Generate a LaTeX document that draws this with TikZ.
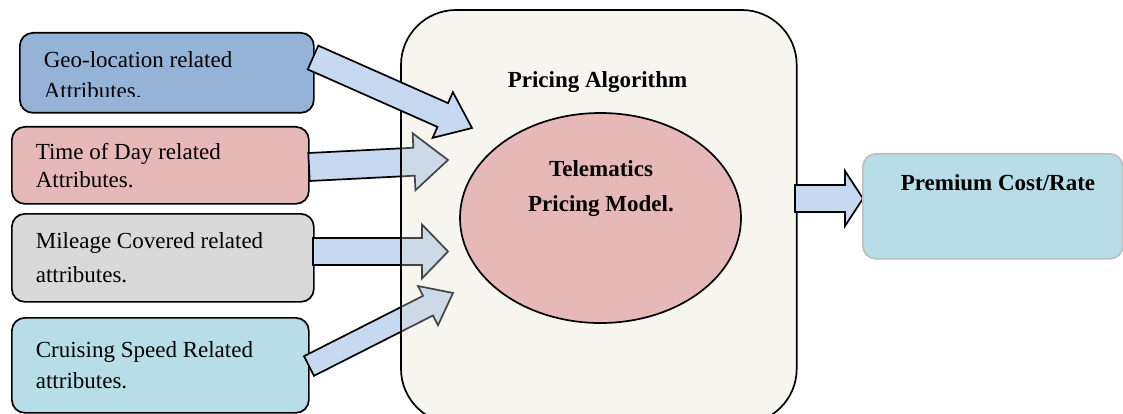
\documentclass[tikz,border=0pt]{standalone}
\usepackage{fontspec}
\setmainfont{Liberation Serif}
\usetikzlibrary{calc,shapes.geometric}
\definecolor{geoc}{HTML}{95B3D7}
\definecolor{timec}{HTML}{E6B8B7}
\definecolor{milec}{HTML}{D9D9D9}
\definecolor{cruisec}{HTML}{B7DDE8}
\definecolor{boxc}{HTML}{F6F5F0}
\definecolor{arrc}{HTML}{C6D9F1}
\definecolor{arrin}{HTML}{CCD9E6}
\definecolor{arrinline}{HTML}{454545}
\definecolor{premborder}{HTML}{BFBFBF}
\newcommand\blockarr[6]{%
  \draw[#1] let \p1=($(#3)-(#2)$), \n1={atan2(\y1,\x1)}, \n2={veclen(\x1,\y1)} in
    [shift={(#2)}, rotate=\n1]
    (0,-#4) -- ({\n2-#6},-#4) -- ({\n2-#6},-#5) -- (\n2,0) --
    ({\n2-#6},#5) -- ({\n2-#6},#4) -- (0,#4) -- cycle;}
\begin{document}
\begin{tikzpicture}[x=1pt,y=-1pt,line width=1.7pt,
  box/.style={draw, rounded corners=13pt, inner sep=0pt, anchor=north west},
  lbl/.style={anchor=base west, inner sep=0pt, font=\fontsize{23}{28}\selectfont},
  blbl/.style={anchor=base, inner sep=0pt, font=\fontsize{23}{28}\selectfont\bfseries},
  barrow/.style={fill=arrc, draw=black, line width=1.7pt, line join=miter},
  inarrow/.style={fill=arrin, draw=arrinline, line width=1.7pt, line join=miter}]
\useasboundingbox (0,0) rectangle (1123,414);
% input boxes
\node[box, fill=geoc, minimum width=294pt, minimum height=80pt] (geo) at (19,32) {};
\node[box, fill=timec, minimum width=297pt, minimum height=77pt] (time) at (11,126) {};
\node[box, fill=milec, minimum width=302pt, minimum height=88pt] (mile) at (11,213) {};
\node[box, fill=cruisec, minimum width=297pt, minimum height=95pt] (cruise) at (11,317) {};
% arrow end points
\coordinate (geoS) at (313,57.5);   \coordinate (geoT) at (472,128);
\coordinate (timeS) at (309,167);   \coordinate (timeT) at (448,160);
\coordinate (mileS) at (313,251.5); \coordinate (mileT) at (448,251.5);
\coordinate (cruiseS) at (309,366); \coordinate (cruiseT) at (453,293);
\coordinate (outS) at (795,198.5);  \coordinate (outT) at (863,198.5);
% arrows under the algorithm box
\blockarr{barrow}{timeS}{timeT}{14}{28.5}{34}
\blockarr{barrow}{mileS}{mileT}{13.5}{27}{26}
\blockarr{barrow}{cruiseS}{cruiseT}{11}{22}{28}
% algorithm box
\node[fill=boxc, rounded corners=55pt, inner sep=0pt, anchor=north west,
      minimum width=394pt, minimum height=412pt] (alg) at (401,10) {};
\begin{scope}
\clip[rounded corners=55pt] (alg.north west) rectangle (alg.south east);
\blockarr{inarrow}{timeS}{timeT}{14}{28.5}{34}
\blockarr{inarrow}{mileS}{mileT}{13.5}{27}{26}
\blockarr{inarrow}{cruiseS}{cruiseT}{11}{22}{28}
\end{scope}
\draw[rounded corners=55pt] (alg.north west) rectangle (alg.south east);
\node[draw, fill=timec, ellipse, inner sep=0pt, minimum width=281pt, minimum height=210pt] (model) at (600.5,218) {};
% arrows on top
\blockarr{barrow}{geoS}{geoT}{13}{25}{32}
\blockarr{barrow}{outS}{outT}{13.5}{27.5}{18}
% premium box
\node[box, draw=premborder, fill=cruisec, minimum width=260pt, minimum height=105pt] (prem) at (862,153) {};
% texts
\node[lbl] (geo1) at (43,68) {Geo-location related};
\begin{scope}
\clip (0,0) rectangle (400,97);
\node[lbl] (geo2) at (43,99) {Attributes.};
\end{scope}
\node[lbl] (time1) at (35,160) {Time of Day related};
\node[lbl] (time2) at (35,187) {Attributes.};
\node[lbl] (mile1) at (35,248) {Mileage Covered related};
\node[lbl] (mile2) at (35,282) {attributes.};
\node[lbl] (cruise1) at (35,357) {Cruising Speed Related};
\node[lbl] (cruise2) at (35,388) {attributes.};
\node[blbl] (algt) at (597.5,88) {Pricing Algorithm};
\node[blbl] (model1) at (601,177) {Telematics};
\node[blbl] (model2) at (601,211) {Pricing Model.};
\node[blbl] (premt) at (998,190) {Premium Cost/Rate};
\end{tikzpicture}
\end{document}
